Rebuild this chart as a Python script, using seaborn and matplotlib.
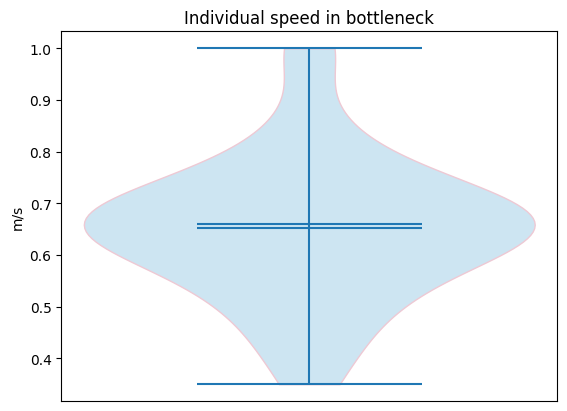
import numpy as np
import matplotlib
matplotlib.use("Agg")
import matplotlib.pyplot as plt
import seaborn as sns

# individual speeds (m/s) in the bottleneck
speeds = [0.35, 0.40, 0.44, 0.47, 0.50, 0.52, 0.54, 0.56, 0.575, 0.59,
          0.60, 0.61, 0.62, 0.63, 0.64, 0.648, 0.655, 0.659, 0.663, 0.667,
          0.671, 0.675, 0.68, 0.686, 0.693, 0.70, 0.71, 0.72, 0.74, 0.755,
          0.78, 0.81, 0.86, 1.0, 1.0]

title = "Individual speed in bottleneck"
ylabel = "m/s"

fig, ax = plt.subplots(figsize=(6.4, 4.8))
sns.violinplot(y=speeds, ax=ax, cut=0, inner=None, bw_method="scott",
               color="#cde5f2", linecolor="#eec9d4", linewidth=1,
               saturation=1, width=0.8)

# extrema, mean and median lines like matplotlib's violinplot
lo, hi = np.min(speeds), np.max(speeds)
ax.vlines(0, lo, hi, color="C0", lw=1.5)
ax.hlines([lo, hi, np.mean(speeds), np.median(speeds)], -0.2, 0.2,
          color="C0", lw=1.5)

ax.set_xlim(-0.44, 0.44)
ax.set_ylim(lo - 0.05 * (hi - lo), hi + 0.05 * (hi - lo))
ax.set_xticks([])
ax.set_xlabel("")
ax.set_ylabel(ylabel)
ax.set_title(title)
for s in ax.spines.values():
    s.set_visible(True)
    s.set_color("black")

fig.savefig("out.png", dpi=100, bbox_inches="tight")
